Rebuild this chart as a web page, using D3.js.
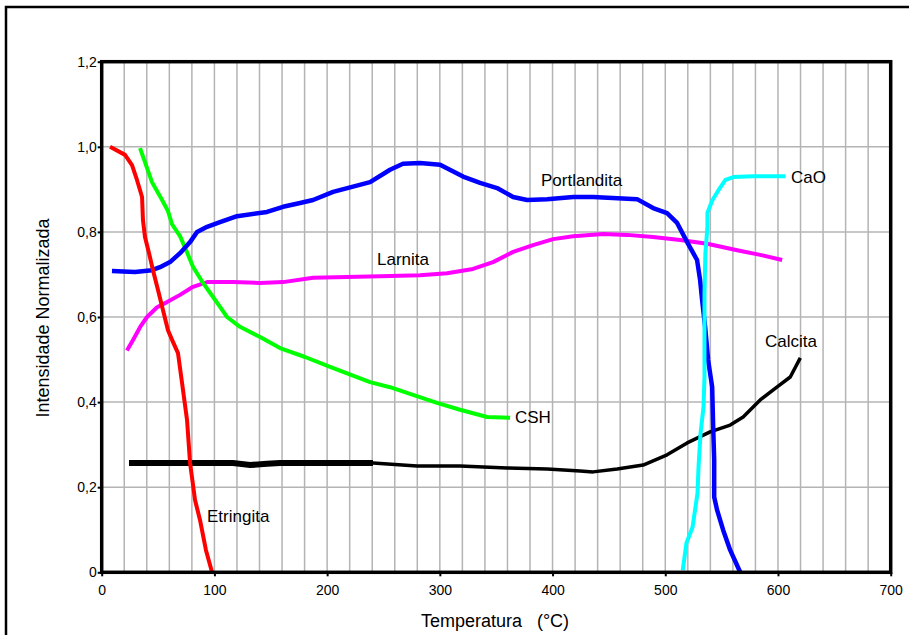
<!DOCTYPE html>
<html><head><meta charset="utf-8">
<script src="https://cdn.jsdelivr.net/npm/d3@7/dist/d3.min.js"></script>
<style>
body{margin:0;background:#fff;}
text{font-family:"Liberation Sans",Arial,sans-serif;}
</style></head>
<body><svg id="c" width="909" height="635"></svg>
<script>
const xTicks=[0,100,200,300,400,500,600,700];
const yTicks=[0,0.2,0.4,0.6,0.8,1.0,1.2];
const yTickLabels=["0","0,2","0,4","0,6","0,8","1,0","1,2"];

const etringita=[[7.4,1.0],[20.7,0.981],[26.9,0.957],[31.3,0.922],[35.8,0.882],[36.6,0.828],[38.4,0.788],[42,0.75],[45.5,0.71],[50,0.663],[54.4,0.616],[58.8,0.569],[63.3,0.541],[67.7,0.515],[71.3,0.445],[75.7,0.358],[78.4,0.257],[82.8,0.17],[87.2,0.123],[92.5,0.052],[97.9,0]];
const csh=[[34,0.997],[38.4,0.964],[44.6,0.917],[51.7,0.884],[58.8,0.849],[62.4,0.818],[69.5,0.79],[75.7,0.752],[81,0.718],[89.9,0.68],[98.8,0.647],[105,0.624],[111.2,0.6],[122.7,0.577],[140.5,0.553],[158.2,0.527],[180.4,0.506],[202.6,0.483],[238.1,0.447],[255.8,0.435],[276.2,0.417],[297.5,0.398],[317.9,0.382],[341.9,0.365],[362.3,0.363]];
const portlandita=[[9.1,0.708],[29.5,0.706],[44.6,0.71],[51.7,0.717],[60.6,0.729],[69.5,0.75],[78.4,0.776],[84.6,0.8],[93.5,0.812],[104.9,0.823],[120.1,0.837],[146.7,0.847],[160.9,0.859],[176,0.868],[187.5,0.875],[205.3,0.894],[238.1,0.917],[255.8,0.946],[267.3,0.96],[282.4,0.962],[300.2,0.958],[320.6,0.93],[335.7,0.915],[350.8,0.903],[365,0.882],[377.4,0.875],[395.2,0.877],[418.3,0.882],[436,0.882],[475,0.877],[489.2,0.856],[501.6,0.844],[510.5,0.821],[519.4,0.776],[528.2,0.734],[530.9,0.687],[532.7,0.64],[535.4,0.576],[538,0.499],[541.6,0.436],[542.5,0.342],[543.4,0.264],[543.4,0.177],[546,0.146],[551.4,0.099],[557.6,0.052],[566.5,0]];
const larnita=[[22.4,0.521],[27.8,0.546],[34,0.576],[40.2,0.6],[49.1,0.623],[58,0.635],[69.5,0.652],[81,0.671],[93.5,0.682],[116.5,0.682],[140.5,0.68],[160.9,0.682],[187.5,0.692],[217.7,0.694],[246.9,0.696],[282.4,0.698],[306.4,0.703],[329.4,0.713],[347.2,0.729],[365,0.753],[382.7,0.769],[400.5,0.783],[418.3,0.79],[444.9,0.795],[466.2,0.793],[489.2,0.788],[513.2,0.781],[537.2,0.772],[563.8,0.757],[584.2,0.746],[603.7,0.734]];
const calcita=[[24.2,0.257],[116.5,0.257],[131.6,0.252],[146.7,0.255],[158.2,0.257],[240.7,0.257],[279.8,0.25],[317.9,0.25],[359.6,0.245],[395.2,0.243],[424.5,0.238],[436,0.236],[457.3,0.243],[480.4,0.252],[501.6,0.276],[519.4,0.304],[539.8,0.33],[557.6,0.346],[569.1,0.365],[584.2,0.405],[599.3,0.436],[610.9,0.459],[619.8,0.504]];
const cao=[[515.5,0.005],[518.8,0.069],[524.2,0.106],[528.6,0.186],[529.5,0.247],[531.3,0.327],[533.9,0.388],[534.8,0.459],[534.8,0.539],[534.8,0.656],[535.6,0.75],[537.4,0.812],[537.4,0.845],[541.9,0.875],[547.2,0.898],[553.4,0.922],[560.5,0.929],[578.3,0.931],[606.7,0.931]];

const series=[
 {name:"Larnita",data:larnita,color:"#ff00ff",w:4,lx:377,ly:265},
 {name:"Calcita",data:calcita,color:"#000000",w:3.5,lx:765,ly:347},
 {name:"CSH",data:csh,color:"#00ff00",w:4,lx:515,ly:423},
 {name:"Portlandita",data:portlandita,color:"#0000ff",w:4.5,lx:541,ly:186},
 {name:"CaO",data:cao,color:"#00ffff",w:4,lx:791,ly:183},
 {name:"Etringita",data:etringita,color:"#ff0000",w:4,lx:207,ly:522}
];

const svg=d3.select("#c");
const m={l:101.7,r:890.7,t:61.7,b:572.3};
const x=d3.scaleLinear().domain([0,700]).range([m.l,m.r]);
const y=d3.scaleLinear().domain([0,1.2]).range([m.b,m.t]);

// outer frame
svg.append("rect").attr("x",6).attr("y",7).attr("width",920).attr("height",650)
 .attr("fill","none").attr("stroke","#000").attr("stroke-width",2.5);

// grid
const g=svg.append("g");
g.selectAll("line.v").data(d3.range(20,700,20)).enter().append("line")
 .attr("x1",d=>x(d)).attr("x2",d=>x(d)).attr("y1",m.t).attr("y2",m.b)
 .attr("stroke","#b4b4b4").attr("stroke-width",1.5);
g.selectAll("line.h").data([0.2,0.4,0.6,0.8,1.0]).enter().append("line")
 .attr("x1",m.l).attr("x2",m.r).attr("y1",d=>y(d)).attr("y2",d=>y(d))
 .attr("stroke","#b4b4b4").attr("stroke-width",1.5);

// axes
const xa=svg.append("g").attr("transform",`translate(0,${m.b})`)
 .call(d3.axisBottom(x).tickValues(xTicks).tickSize(4).tickFormat(d3.format("d")));
const ya=svg.append("g").attr("transform",`translate(${m.l},0)`)
 .call(d3.axisLeft(y).tickValues(yTicks).tickSize(4).tickFormat((d,i)=>yTickLabels[i]));
[xa,ya].forEach(a=>{a.select(".domain").remove();
 a.selectAll(".tick line").attr("stroke","#000").attr("stroke-width",2);
 a.selectAll(".tick text").attr("font-size",14).attr("fill","#000")
  .attr("font-family","Liberation Sans, Arial, sans-serif");});
xa.selectAll(".tick text").attr("dy","1.1em");
ya.selectAll(".tick text").attr("x",-5);

// series
const line=d3.line().x(d=>x(d[0])).y(d=>y(d[1]));
const sg=svg.append("g");
series.forEach(s=>{
 sg.append("path").attr("d",line(s.data)).attr("fill","none")
  .attr("stroke",s.color).attr("stroke-width",s.w).attr("stroke-linejoin","round");
 if(s.name==="Calcita"){
  sg.append("path").attr("d",line(s.data.filter(d=>d[0]<=250))).attr("fill","none")
   .attr("stroke",s.color).attr("stroke-width",6);
 }
 svg.append("text").attr("x",s.lx).attr("y",s.ly).attr("font-size",17).text(s.name);
});

// plot frame
svg.append("rect").attr("x",m.l).attr("y",m.t).attr("width",m.r-m.l).attr("height",m.b-m.t)
 .attr("fill","none").attr("stroke","#000").attr("stroke-width",3.5);

// axis titles
svg.append("text").attr("x",495).attr("y",627).attr("text-anchor","middle").attr("font-size",18)
 .attr("xml:space","preserve").text("Temperatura   (°C)");
svg.append("text").attr("transform","translate(49,318) rotate(-90)").attr("text-anchor","middle")
 .attr("font-size",18).text("Intensidade Normalizada");
</script></body></html>
